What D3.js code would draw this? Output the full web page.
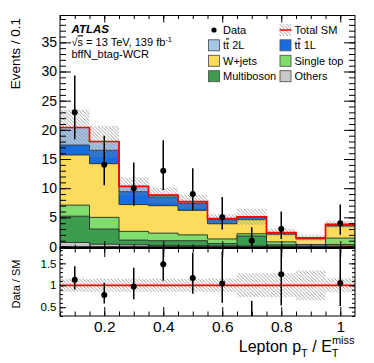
<!DOCTYPE html>
<html>
<head>
<meta charset="utf-8">
<script src="https://cdn.jsdelivr.net/npm/d3@7"></script>
<style>
  body { margin: 0; background: #fff; }
  text { font-family: "Liberation Sans", Arial, Helvetica, sans-serif; }
</style>
</head>
<body>
<script>

// bin centres (width 0.1)
let binCenters = [0.1, 0.2, 0.3, 0.4, 0.5, 0.6, 0.7, 0.8, 0.9, 1.0];
let binWidth = 0.1;

// background stack, bottom to top
let others     = [0.7, 0.4, 0.3, 0.2, 0.15, 0.1, 0.1, 0.05, 0.02, 0.02];
let multiboson = [4.5, 2.6, 0.8, 0.8, 0.85, 0.4, 1.7, 0.25, 0.08, 0.33];
let singleTop  = [1.9, 2.0, 1.5, 1.3, 1.0, 0.8, 0.4, 0.5, 0.25, 1.1];
let wjets      = [8.6, 9.2, 4.6, 4.7, 4.2, 2.6, 2.4, 1.3, 0.95, 2.05];
let ttbar1L    = [1.7, 2.3, 2.2, 1.5, 1.2, 0.7, 0.4, 0.25, 0.15, 0.2];
let ttbar2L    = [3.0, 1.5, 0.9, 0.3, 0.3, 0.2, 0.1, 0.05, 0.05, 0.1];

// relative uncertainty on total SM
let relUnc = [0.15, 0.15, 0.15, 0.15, 0.15, 0.16, 0.27, 0.27, 0.34, 0.16];

// data (bin at 0.9 is empty)
let dataCounts = [23, 14, 10, 13, 9, 5, 1, 3, 0, 4];
let dataUp     = [29.3, 19.0, 14.4, 18.2, 13.4, 8.5, 3.3, 6.0, null, 7.2];
let dataDown   = [18.4, 10.5, 7.0, 9.7, 6.2, 2.9, 0.17, 1.3, null, 2.0];

let mainTicks  = [0, 5, 10, 15, 20, 25, 30, 35];
let ratioTicks = [0.5, 1, 1.5];
let xTicks     = [0.2, 0.4, 0.6, 0.8, 1.0];

let colors = {
    others: "#c8c8c8",
    multiboson: "#3c9d4e",
    singleTop: "#80dc6c",
    wjets: "#fcdc5c",
    ttbar1L: "#156ddf",
    ttbar2L: "#a3c6ea"
};

let left = 60, right = 355;
let mainTop = 15.5, mainBot = 248, ratTop = 248, ratBot = 316;

let svg = d3.select("body").append("svg")
    .attr("width", 374)
    .attr("height", 363);

let defs = svg.append("defs");
defs.append("pattern").attr("id", "hatch")
    .attr("patternUnits", "userSpaceOnUse")
    .attr("width", 3.5).attr("height", 3.5)
    .append("path")
    .attr("d", "M-1,-1 L4.5,4.5 M-1,2.5 L1,4.5 M2.5,-1 L4.5,1")
    .attr("stroke", "#8c8c8c").attr("stroke-width", 0.8);
defs.append("clipPath").attr("id", "clipMain").append("rect")
    .attr("x", left).attr("y", mainTop).attr("width", right - left).attr("height", mainBot - mainTop);
defs.append("clipPath").attr("id", "clipRatio").append("rect")
    .attr("x", left).attr("y", ratTop).attr("width", right - left).attr("height", ratBot - ratTop);

let x = d3.scaleLinear().domain([0.05, 1.05]).range([left, right]);
let yMain = d3.scaleLinear().domain([-0.25, 39.6]).range([mainBot, mainTop]);
let yRat = d3.scaleLinear().domain([0.3, 1.85]).range([ratBot, ratTop]);

// stack
let keys = ["others", "multiboson", "singleTop", "wjets", "ttbar1L", "ttbar2L"];
let src = { others, multiboson, singleTop, wjets, ttbar1L, ttbar2L };
let rows = binCenters.map(function (c, i) {
    let r = { x: c };
    keys.forEach(function (k) { r[k] = src[k][i]; });
    return r;
});
let series = d3.stack().keys(keys)(rows);
let totals = series[series.length - 1].map(function (d) { return d[1]; });

function stepPoints(vals) {
    let pts = [];
    vals.forEach(function (v, i) {
        pts.push([binCenters[i] - binWidth / 2, v]);
        pts.push([binCenters[i] + binWidth / 2, v]);
    });
    return pts;
}

let main = svg.append("g").attr("clip-path", "url(#clipMain)");

// draw cumulative histograms from the top one down
series.slice().reverse().forEach(function (s) {
    let pts = stepPoints(s.map(function (d) { return d[1]; }));
    let closed = pts.concat([[1.05, 0], [0.05, 0]]);
    main.append("path")
        .attr("d", d3.line().x(function (p) { return x(p[0]); }).y(function (p) { return yMain(p[1]); })(closed) + "Z")
        .attr("fill", colors[s.key])
        .attr("stroke", "#2a2a2a")
        .attr("stroke-width", 0.9);
});

// uncertainty band
main.append("g").selectAll("rect")
    .data(binCenters)
    .enter().append("rect")
    .attr("x", function (c) { return x(c - binWidth / 2); })
    .attr("width", function () { return x(binWidth) - x(0); })
    .attr("y", function (c, i) { return yMain(totals[i] * (1 + relUnc[i])); })
    .attr("height", function (c, i) { return yMain(totals[i] * (1 - relUnc[i])) - yMain(totals[i] * (1 + relUnc[i])); })
    .attr("fill", "url(#hatch)");

// total SM outline
main.append("path")
    .attr("d", d3.line().x(function (p) { return x(p[0]); }).y(function (p) { return yMain(p[1]); })(stepPoints(totals)))
    .attr("fill", "none")
    .attr("stroke", "#ff0000")
    .attr("stroke-width", 1.7);

// data
let dataIdx = d3.range(binCenters.length).filter(function (i) { return dataCounts[i] > 0; });
main.append("g").selectAll("line")
    .data(dataIdx)
    .enter().append("line")
    .attr("x1", function (i) { return x(binCenters[i]); })
    .attr("x2", function (i) { return x(binCenters[i]); })
    .attr("y1", function (i) { return yMain(dataUp[i]); })
    .attr("y2", function (i) { return yMain(dataDown[i]); })
    .attr("stroke", "#000").attr("stroke-width", 1.5);
main.append("g").selectAll("circle")
    .data(dataIdx)
    .enter().append("circle")
    .attr("cx", function (i) { return x(binCenters[i]); })
    .attr("cy", function (i) { return yMain(dataCounts[i]); })
    .attr("r", 3)
    .attr("fill", "#000");

// ratio panel
let ratio = svg.append("g").attr("clip-path", "url(#clipRatio)");
ratio.append("g").selectAll("rect")
    .data(binCenters)
    .enter().append("rect")
    .attr("x", function (c) { return x(c - binWidth / 2); })
    .attr("width", function () { return x(binWidth) - x(0); })
    .attr("y", function (c, i) { return yRat(1 + relUnc[i]); })
    .attr("height", function (c, i) { return yRat(1 - relUnc[i]) - yRat(1 + relUnc[i]); })
    .attr("fill", "url(#hatch)");
ratio.append("line")
    .attr("x1", left).attr("x2", right)
    .attr("y1", yRat(1)).attr("y2", yRat(1))
    .attr("stroke", "#ff0000").attr("stroke-width", 1.7);
ratio.append("g").selectAll("line")
    .data(dataIdx)
    .enter().append("line")
    .attr("x1", function (i) { return x(binCenters[i]); })
    .attr("x2", function (i) { return x(binCenters[i]); })
    .attr("y1", function (i) { return yRat(dataUp[i] / totals[i]); })
    .attr("y2", function (i) { return yRat(dataDown[i] / totals[i]); })
    .attr("stroke", "#000").attr("stroke-width", 1.5);
ratio.append("g").selectAll("circle")
    .data(dataIdx)
    .enter().append("circle")
    .attr("cx", function (i) { return x(binCenters[i]); })
    .attr("cy", function (i) { return yRat(dataCounts[i] / totals[i]); })
    .attr("r", 3)
    .attr("fill", "#000");

// axes (ROOT style, ticks inside)
function styleAxis(g, size) {
    g.select(".domain").remove();
    g.selectAll("line").attr("stroke", "#000");
    g.selectAll("text").attr("font-size", size).attr("fill", "#000")
        .attr("font-family", "'Liberation Sans', Arial, Helvetica, sans-serif");
}
let fmt = function (d) { return d3.format("~g")(d); };

svg.append("g").attr("transform", "translate(" + left + ",0)")
    .call(d3.axisLeft(yMain).tickValues(d3.range(0, 40, 1)).tickSizeInner(-6).tickSizeOuter(0).tickFormat(""))
    .call(styleAxis, 14);
svg.append("g").attr("transform", "translate(" + left + ",0)")
    .call(d3.axisLeft(yMain).tickValues(mainTicks).tickSizeInner(-11).tickSizeOuter(0).tickPadding(3).tickFormat(fmt))
    .call(styleAxis, 14);
svg.append("g").attr("transform", "translate(" + right + ",0)")
    .call(d3.axisRight(yMain).tickValues(d3.range(0, 40, 1)).tickSizeInner(-6).tickSizeOuter(0).tickFormat(""))
    .call(styleAxis, 14);
svg.append("g").attr("transform", "translate(" + right + ",0)")
    .call(d3.axisRight(yMain).tickValues(mainTicks).tickSizeInner(-11).tickSizeOuter(0).tickFormat(""))
    .call(styleAxis, 14);

let minorX = d3.range(1, 21).map(function (k) { return k * 0.05; });
[[mainTop, d3.axisTop, 3.5, 7], [mainBot, d3.axisBottom, 3.5, 7], [ratTop, d3.axisTop, 4.5, 9]].forEach(function (a) {
    svg.append("g").attr("transform", "translate(0," + a[0] + ")")
        .call(a[1](x).tickValues(minorX).tickSizeInner(-a[2]).tickSizeOuter(0).tickFormat(""))
        .call(styleAxis, 14);
    svg.append("g").attr("transform", "translate(0," + a[0] + ")")
        .call(a[1](x).tickValues(xTicks).tickSizeInner(-a[3]).tickSizeOuter(0).tickFormat(""))
        .call(styleAxis, 14);
});
svg.append("g").attr("transform", "translate(0," + ratBot + ")")
    .call(d3.axisBottom(x).tickValues(minorX).tickSizeInner(-4.5).tickSizeOuter(0).tickFormat(""))
    .call(styleAxis, 15.5);
svg.append("g").attr("transform", "translate(0," + ratBot + ")")
    .call(d3.axisBottom(x).tickValues(xTicks).tickSizeInner(-9).tickSizeOuter(0).tickPadding(4.5).tickFormat(fmt))
    .call(styleAxis, 15.5);

let minorR = d3.range(3, 19).map(function (k) { return k / 10; });
svg.append("g").attr("transform", "translate(" + left + ",0)")
    .call(d3.axisLeft(yRat).tickValues(minorR).tickSizeInner(-3).tickSizeOuter(0).tickFormat(""))
    .call(styleAxis, 11.5);
svg.append("g").attr("transform", "translate(" + left + ",0)")
    .call(d3.axisLeft(yRat).tickValues(ratioTicks).tickSizeInner(-6).tickSizeOuter(0).tickPadding(3.5).tickFormat(fmt))
    .call(styleAxis, 11.5);
svg.append("g").attr("transform", "translate(" + right + ",0)")
    .call(d3.axisRight(yRat).tickValues(minorR).tickSizeInner(-3).tickSizeOuter(0).tickFormat(""))
    .call(styleAxis, 11.5);
svg.append("g").attr("transform", "translate(" + right + ",0)")
    .call(d3.axisRight(yRat).tickValues(ratioTicks).tickSizeInner(-6).tickSizeOuter(0).tickFormat(""))
    .call(styleAxis, 11.5);

// frames
svg.append("rect").attr("x", left).attr("y", mainTop).attr("width", right - left).attr("height", mainBot - mainTop)
    .attr("fill", "none").attr("stroke", "#000").attr("stroke-width", 1);
svg.append("rect").attr("x", left).attr("y", ratTop).attr("width", right - left).attr("height", ratBot - ratTop)
    .attr("fill", "none").attr("stroke", "#000").attr("stroke-width", 1);
svg.append("line").attr("x1", left).attr("x2", right).attr("y1", mainBot).attr("y2", mainBot)
    .attr("stroke", "#000").attr("stroke-width", 2);

// axis titles
svg.append("text")
    .attr("transform", "translate(20,18) rotate(-90)")
    .attr("text-anchor", "end").attr("font-size", 13.5)
    .text("Events / 0.1");
svg.append("text")
    .attr("transform", "translate(20,284) rotate(-90)")
    .attr("text-anchor", "middle").attr("font-size", 11)
    .text("Data / SM");

let xt = svg.append("text").attr("x", 354.5).attr("y", 352).attr("text-anchor", "end").attr("font-size", 16);
xt.append("tspan").text("Lepton p");
xt.append("tspan").attr("font-size", 11).attr("dy", 5).text("T");
xt.append("tspan").attr("dy", -5).text(" / E");
xt.append("tspan").attr("font-size", 11).attr("dy", 5).text("T");
xt.append("tspan").attr("font-size", 11).attr("dx", -6.7).attr("dy", -13).text("miss");

// ATLAS label
svg.append("text").attr("x", 71.5).attr("y", 33)
    .attr("font-size", 11.5).attr("font-weight", "bold").attr("font-style", "italic")
    .text("ATLAS");
let en = svg.append("text").attr("x", 71.5).attr("y", 46.3).attr("font-size", 11);
en.append("tspan").text("\u221a");
en.append("tspan").style("text-decoration", "overline").text("s");
en.append("tspan").text(" = 13 TeV, 139 fb");
en.append("tspan").attr("font-size", 7.5).attr("dy", -4.5).text("-1");
svg.append("text").attr("x", 71.5).attr("y", 58).attr("font-size", 11).text("bffN_btag-WCR");

// legend
let colX = [208, 279.5];
let rowY = [30, 45.3, 60.8, 76.2];
let legendItems = [
    { label: "Data", type: "data", col: 0, row: 0 },
    { label: "Total SM", type: "total", col: 1, row: 0 },
    { label: "2L", type: "ttbar2L", col: 0, row: 1, tt: true },
    { label: "1L", type: "ttbar1L", col: 1, row: 1, tt: true },
    { label: "W+jets", type: "wjets", col: 0, row: 2 },
    { label: "Single top", type: "singleTop", col: 1, row: 2 },
    { label: "Multiboson", type: "multiboson", col: 0, row: 3 },
    { label: "Others", type: "others", col: 1, row: 3 }
];
let leg = svg.append("g");
legendItems.forEach(function (it) {
    let bx = colX[it.col], cy = rowY[it.row];
    if (it.type === "data") {
        leg.append("circle").attr("cx", bx + 6).attr("cy", cy).attr("r", 2.6).attr("fill", "#000");
    } else if (it.type === "total") {
        leg.append("rect").attr("x", bx).attr("y", cy - 6).attr("width", 12).attr("height", 12)
            .attr("fill", "url(#hatch)");
        leg.append("line").attr("x1", bx).attr("x2", bx + 12).attr("y1", cy).attr("y2", cy)
            .attr("stroke", "#ff0000").attr("stroke-width", 1.5);
    } else {
        leg.append("rect").attr("x", bx + 0.5).attr("y", cy - 5.5).attr("width", 11).attr("height", 11)
            .attr("fill", colors[it.type]).attr("stroke", "#555").attr("stroke-width", 0.9);
    }
    let t = leg.append("text").attr("x", bx + 15).attr("y", cy + 4).attr("font-size", 11);
    if (it.tt) {
        t.append("tspan").text("t");
        t.append("tspan").style("text-decoration", "overline").text("t");
        t.append("tspan").text(" " + it.label);
    } else {
        t.text(it.label);
    }
});

</script>
</body>
</html>
